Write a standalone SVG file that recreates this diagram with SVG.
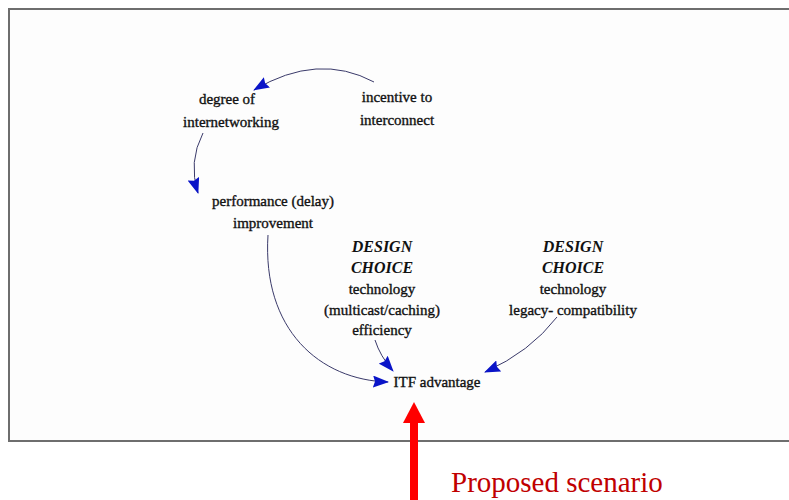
<svg xmlns="http://www.w3.org/2000/svg" width="789" height="500" viewBox="0 0 789 500">
  <style>
    .lbl { font-family: "Liberation Serif", "Times New Roman", serif; font-size: 15px; fill: #111; stroke: #111; stroke-width: 0.35; text-anchor: middle; }
    .dc { font-family: "Liberation Serif", "Times New Roman", serif; font-size: 16px; font-weight: bold; font-style: italic; fill: #111; text-anchor: middle; }
    .link { fill: none; stroke: #3a3a6a; stroke-width: 1; marker-end: url(#tip); }
  </style>
  <defs>
    <marker id="tip" viewBox="0 0 16 12" refX="15" refY="6" markerWidth="16" markerHeight="12" markerUnits="userSpaceOnUse" orient="auto">
      <path d="M0,0 L16,6 L0,12 L2,6 Z" fill="#0a14c8"/>
    </marker>
  </defs>

  <rect width="789" height="500" fill="#ffffff"/>
  <!-- frame -->
  <rect x="9" y="9" width="800" height="432" fill="#fdfdfd" stroke="#6e6e6e" stroke-width="2"/>

  <!-- connectors -->
  <g id="connectors">
    <path class="link" d="M374,82 Q318,52 254,90"/>
    <path class="link" d="M203,133 Q188,162 198,193"/>
    <path class="link" d="M268,235 C262,330 320,380 388,382"/>
    <path class="link" d="M375,340 Q380,356 393,371"/>
    <path class="link" d="M557,317 Q530,352 485,372"/>
  </g>

  <g id="degree">
    <text class="lbl" x="227" y="104">degree of</text>
    <text class="lbl" x="231" y="127">internetworking</text>
  </g>
  <g id="incentive">
    <text class="lbl" x="397" y="102">incentive to</text>
    <text class="lbl" x="397" y="125">interconnect</text>
  </g>
  <g id="performance">
    <text class="lbl" x="273" y="206">performance (delay)</text>
    <text class="lbl" x="273" y="228">improvement</text>
  </g>
  <g id="choice-multicast">
    <text class="dc" x="382" y="252">DESIGN</text>
    <text class="dc" x="382" y="273">CHOICE</text>
    <text class="lbl" x="382" y="294">technology</text>
    <text class="lbl" x="382" y="315">(multicast/caching)</text>
    <text class="lbl" x="382" y="335">efficiency</text>
  </g>
  <g id="choice-legacy">
    <text class="dc" x="573" y="252">DESIGN</text>
    <text class="dc" x="573" y="273">CHOICE</text>
    <text class="lbl" x="573" y="294">technology</text>
    <text class="lbl" x="573" y="315">legacy- compatibility</text>
  </g>
  <g id="itf">
    <text class="lbl" x="437" y="387">ITF advantage</text>
  </g>

  <!-- proposed scenario pointer -->
  <g id="scenario">
    <rect x="410" y="422" width="8" height="78" fill="#ff0000"/>
    <path d="M403,423 L414,402 L425,423 Z" fill="#ff0000"/>
    <text x="451" y="492" font-family="Liberation Serif, Times New Roman, serif" font-size="29" fill="#c00000">Proposed scenario</text>
  </g>
</svg>
